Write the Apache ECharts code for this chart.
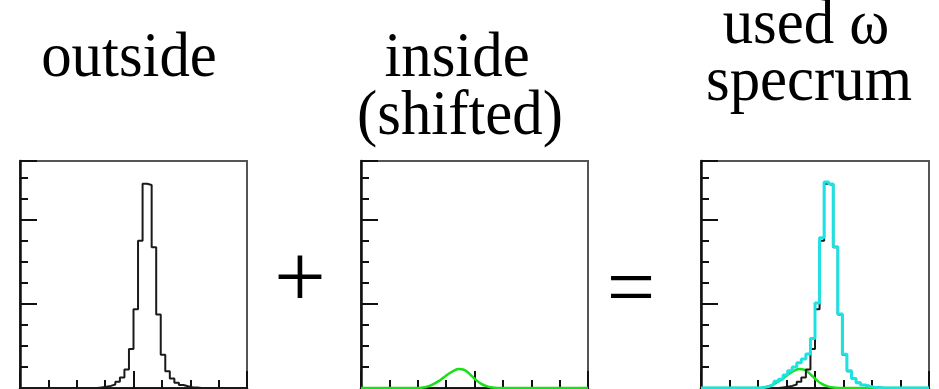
<!DOCTYPE html>
<html>
<head>
<meta charset="utf-8">
<script src="https://cdn.jsdelivr.net/npm/echarts@6/dist/echarts.min.js"></script>
<style>
  html, body { margin: 0; padding: 0; background: #fff; }
  #chart { width: 939px; height: 389px; }
</style>
</head>
<body>
<div id="chart"></div>
<script>
// Histograms share 50 bins on the mass axis (bin k covers [k, k+1]).
const binCount = 50;

// Spectrum outside the nucleus (black histogram), counts per bin.
const outsideCounts = [
  0, 0, 0, 0, 0, 0, 0, 0, 0, 0,
  0, 0, 0, 0, 0, 0, 0, 0.03, 0.06, 0.1,
  0.17, 0.3, 0.5, 0.88, 1.85, 3.75, 7.0, 9.72, 9.66, 6.7,
  3.5, 1.58, 0.8, 0.45, 0.25, 0.14, 0.08, 0.04, 0.02, 0,
  0, 0, 0, 0, 0, 0, 0, 0, 0, 0
];

// In-medium part, shifted (green curve), sampled at bin centres.
const insideCounts = [
  0, 0, 0, 0, 0, 0, 0, 0, 0, 0,
  0, 0, 0, 0.02, 0.06, 0.14, 0.25, 0.38, 0.55, 0.7,
  0.83, 0.9, 0.88, 0.75, 0.55, 0.35, 0.2, 0.1, 0.04, 0.01,
  0, 0, 0, 0, 0, 0, 0, 0, 0, 0,
  0, 0, 0, 0, 0, 0, 0, 0, 0, 0
];

// Resulting omega spectrum (cyan histogram).
const usedCounts = [
  0, 0, 0, 0, 0, 0, 0, 0, 0, 0,
  0, 0, 0, 0.03, 0.08, 0.17, 0.32, 0.42, 0.62, 0.82,
  1.0, 1.2, 1.38, 1.62, 2.35, 4.05, 7.15, 9.8, 9.7, 6.72,
  3.52, 1.6, 0.82, 0.45, 0.25, 0.14, 0.08, 0.04, 0.02, 0,
  0, 0, 0, 0, 0, 0, 0, 0, 0, 0
];

// Panel headings and the operators between panels.
const panelTitles = [["outside"], ["inside", "(shifted)"], ["used \u03c9", "specrum"]];
const operators = ["+", "="];

// Axis scale: y in units of one minor tick, long tick every 4.
const yMax = 10.8;
const yMajorStep = 4;
const xMajorStep = 25;

// Turn per-bin counts into step-line points at bin edges.
function stepPoints(counts) {
  const pts = counts.map((v, k) => [k, v]);
  pts.push([binCount, counts[counts.length - 1]]);
  return pts;
}
// Points at bin centres for smooth curves, pinned to the range ends.
function centrePoints(counts) {
  const pts = [[0, counts[0]]];
  counts.forEach((v, k) => pts.push([k + 0.5, v]));
  pts.push([binCount, counts[counts.length - 1]]);
  return pts;
}

const panels = [
  { left: 20, width: 227 },
  { left: 361, width: 227 },
  { left: 701, width: 228 }
];
const plotTop = 161, plotHeight = 227;

const tickStyle = { color: '#111', width: 2 };
const grids = [], xAxes = [], yAxes = [];
panels.forEach((p, i) => {
  grids.push({
    left: p.left, top: plotTop, width: p.width, height: plotHeight,
    show: true, borderColor: '#555', borderWidth: 2, backgroundColor: '#fff'
  });
  xAxes.push({
    gridIndex: i, type: 'value', min: 0, max: binCount, interval: xMajorStep,
    axisLine: { show: true, onZero: false, lineStyle: { color: '#111', width: 2.5 } },
    axisTick: { show: true, inside: true, length: 17, lineStyle: tickStyle },
    minorTick: { show: true, splitNumber: 4, length: 8, lineStyle: tickStyle },
    axisLabel: { show: false }, splitLine: { show: false }, minorSplitLine: { show: false }
  });
  yAxes.push({
    gridIndex: i, type: 'value', position: 'left', min: 0, max: yMax, interval: yMajorStep,
    axisLine: { show: true, onZero: false, lineStyle: { color: '#111', width: 2.5 } },
    axisTick: { show: true, inside: true, length: 17, lineStyle: tickStyle },
    minorTick: { show: true, splitNumber: 4, length: 8, lineStyle: tickStyle },
    axisLabel: { show: false }, splitLine: { show: false }, minorSplitLine: { show: false }
  });
});

const blackStep = (i) => ({
  type: 'line', xAxisIndex: i, yAxisIndex: i, data: stepPoints(outsideCounts),
  step: 'end', symbol: 'none', silent: true,
  lineStyle: { color: '#1a1a1a', width: 2 }
});
const greenCurve = (i) => ({
  type: 'line', xAxisIndex: i, yAxisIndex: i, data: centrePoints(insideCounts),
  smooth: 0.4, symbol: 'none', silent: true,
  lineStyle: { color: '#16e016', width: 2.5 }
});

const series = [
  blackStep(0),
  greenCurve(1),
  greenCurve(2),
  blackStep(2),
  {
    type: 'line', xAxisIndex: 2, yAxisIndex: 2, data: stepPoints(usedCounts),
    step: 'end', symbol: 'none', silent: true,
    lineStyle: { color: '#1ee2e2', width: 3 }
  }
];

// Heading positions (centre x, middle y per line) and operator positions.
const serif = 'Liberation Serif';
const titleSize = 64;
const titleAnchors = [
  [{ x: 129, y: 59 }],
  [{ x: 457, y: 59 }, { x: 460, y: 117 }],
  [{ x: 806, y: 26 }, { x: 809, y: 83 }]
];
const operatorAnchors = [{ x: 300, y: 283, size: 92 }, { x: 631, y: 293, size: 86 }];

const graphics = [];
panelTitles.forEach((lines, i) => {
  lines.forEach((t, j) => {
    graphics.push({
      type: 'text', silent: true,
      x: titleAnchors[i][j].x, y: titleAnchors[i][j].y, scaleX: 0.95,
      style: {
        text: t, fontSize: titleSize, fontFamily: serif,
        fill: '#000', textAlign: 'center', textVerticalAlign: 'middle'
      }
    });
  });
});
operators.forEach((op, i) => {
  const a = operatorAnchors[i];
  graphics.push({
    type: 'text', silent: true, x: a.x, y: a.y,
    style: {
      text: op, fontSize: a.size, fontFamily: serif,
      fill: '#000', textAlign: 'center', textVerticalAlign: 'middle'
    }
  });
});

const chart = echarts.init(document.getElementById('chart'), null, { renderer: 'canvas' });
chart.setOption({
  animation: false,
  backgroundColor: '#fff',
  grid: grids,
  xAxis: xAxes,
  yAxis: yAxes,
  series: series,
  graphic: graphics
});
</script>
</body>
</html>
